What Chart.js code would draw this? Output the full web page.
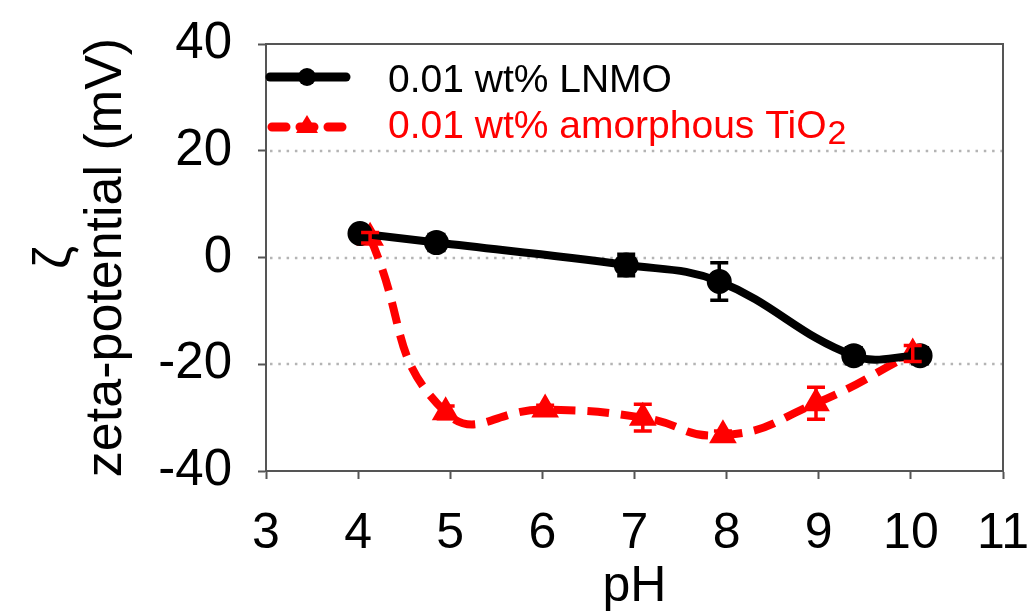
<!DOCTYPE html>
<html>
<head>
<meta charset="utf-8">
<script src="https://cdn.jsdelivr.net/npm/chart.js@4/dist/chart.umd.min.js"></script>
<style>
  html, body { margin: 0; padding: 0; background: #fff; }
  #wrap { width: 1032px; height: 615px; position: relative; }
</style>
</head>
<body>
<div id="wrap"><canvas id="zeta"></canvas></div>
<script>
// zeta potential vs pH
const lnmoPH = [4.02, 4.85, 6.91, 7.92, 9.38, 10.1];
const lnmoZeta = [4.5, 2.8, -1.4, -4.5, -18.4, -18.4];
const lnmoErr = [0, 1.5, 2, 3.5, 1.5, 1.5];

const tioPH = [4.13, 4.95, 6.03, 7.09, 7.96, 8.97, 10.02];
const tioZeta = [3.7, -29, -28.5, -30, -33.3, -27.3, -18];
const tioErr = [1, 1.2, 0.8, 2.5, 0.8, 3, 1.5];

const xTicks = [3, 4, 5, 6, 7, 8, 9, 10, 11];
const yTicks = [-40, -20, 0, 20, 40];
const gridAt = [-20, 0, 20];
const seriesNames = ['0.01 wt% LNMO', '0.01 wt% amorphous TiO'];

const FONT = '"Liberation Sans", Arial, sans-serif';
const RED = '#ff0000';

// dotted horizontal grid lines
const dottedGrid = {
  id: 'dottedGrid',
  beforeDatasetsDraw(chart) {
    const ctx = chart.ctx;
    const a = chart.chartArea;
    const ys = chart.scales.y;
    ctx.save();
    ctx.strokeStyle = '#b4b4b4';
    ctx.lineWidth = 2.5;
    ctx.setLineDash([2.5, 5.8]);
    gridAt.forEach(v => {
      const y = Math.round(ys.getPixelForValue(v));
      ctx.beginPath();
      ctx.moveTo(a.left + 4, y);
      ctx.lineTo(a.right, y);
      ctx.stroke();
    });
    ctx.restore();
  }
};

const errorBars = {
  id: 'errorBars',
  afterDatasetsDraw(chart) {
    const ctx = chart.ctx;
    const ys = chart.scales.y;
    chart.data.datasets.forEach((ds, i) => {
      const meta = chart.getDatasetMeta(i);
      ctx.save();
      ctx.strokeStyle = ds.borderColor;
      ctx.lineWidth = 3.5;
      meta.data.forEach((pt, j) => {
        const e = ds.errors[j];
        if (!e) return;
        const v = ds.data[j].y;
        const top = ys.getPixelForValue(v + e);
        const bot = ys.getPixelForValue(v - e);
        ctx.beginPath();
        ctx.moveTo(pt.x, top); ctx.lineTo(pt.x, bot);
        ctx.moveTo(pt.x - 9, top); ctx.lineTo(pt.x + 9, top);
        ctx.moveTo(pt.x - 9, bot); ctx.lineTo(pt.x + 9, bot);
        ctx.stroke();
      });
      ctx.restore();
    });
  }
};

const frameAndLegend = {
  id: 'frameAndLegend',
  afterDraw(chart) {
    const ctx = chart.ctx;
    const a = chart.chartArea;
    ctx.save();
    ctx.strokeStyle = '#555';
    ctx.lineWidth = 2;
    ctx.beginPath();
    ctx.moveTo(a.left, a.top); ctx.lineTo(a.right, a.top); ctx.lineTo(a.right, a.bottom);
    ctx.stroke();

    // legend
    ctx.lineCap = 'round';
    ctx.lineWidth = 9;
    ctx.strokeStyle = '#000';
    ctx.beginPath(); ctx.moveTo(270, 77); ctx.lineTo(346, 77); ctx.stroke();
    ctx.fillStyle = '#000';
    ctx.beginPath(); ctx.arc(307, 77, 9, 0, Math.PI * 2); ctx.fill();

    ctx.strokeStyle = RED;
    ctx.setLineDash([14, 14]);
    ctx.beginPath(); ctx.moveTo(272, 127); ctx.lineTo(345, 127); ctx.stroke();
    ctx.setLineDash([]);
    ctx.fillStyle = RED;
    ctx.beginPath(); ctx.moveTo(307, 115); ctx.lineTo(318, 133); ctx.lineTo(296, 133); ctx.closePath(); ctx.fill();

    ctx.font = '39px ' + FONT;
    ctx.textBaseline = 'alphabetic';
    ctx.fillStyle = '#000';
    ctx.fillText(seriesNames[0], 388, 92);
    ctx.fillStyle = RED;
    ctx.fillText(seriesNames[1], 388, 138);
    const w = ctx.measureText(seriesNames[1]).width;
    ctx.font = '34px ' + FONT;
    ctx.fillText('2', 389 + w, 144);
    ctx.restore();
  }
};

new Chart(document.getElementById('zeta'), {
  type: 'line',
  data: {
    datasets: [
      {
        label: seriesNames[0],
        data: lnmoPH.map((x, i) => ({ x, y: lnmoZeta[i] })),
        errors: lnmoErr,
        borderColor: '#000',
        backgroundColor: '#000',
        borderWidth: 8,
        tension: 0.4,
        pointStyle: 'circle',
        pointRadius: 8.5,
        pointHoverRadius: 8.5
      },
      {
        label: seriesNames[1],
        data: tioPH.map((x, i) => ({ x, y: tioZeta[i] })),
        errors: tioErr,
        borderColor: RED,
        backgroundColor: RED,
        borderWidth: 8,
        borderDash: [22, 12],
        tension: 0.5,
        pointStyle: 'triangle',
        pointRadius: 8,
        pointHoverRadius: 8
      }
    ]
  },
  options: {
    responsive: true,
    maintainAspectRatio: false,
    animation: false,
    layout: { padding: { top: 44, right: 29, left: 0, bottom: 0 } },
    plugins: {
      legend: { display: false },
      tooltip: { enabled: false }
    },
    scales: {
      x: {
        type: 'linear',
        min: 3,
        max: 11,
        afterBuildTicks: s => { s.ticks = xTicks.map(v => ({ value: v })); },
        afterFit: s => { s.height = 144; s.paddingLeft = 0; s.paddingRight = 0; },
        border: { display: true, color: '#555', width: 2 },
        grid: { drawOnChartArea: false, drawTicks: true, tickLength: 8, tickColor: '#555', tickWidth: 2 },
        ticks: { color: '#000', font: { family: FONT, size: 50 }, padding: 25, maxRotation: 0 },
        title: { display: true, text: 'pH', color: '#000', font: { family: FONT, size: 50, lineHeight: 1.1 }, padding: { top: 0, bottom: 0 } }
      },
      y: {
        min: -40,
        max: 40,
        afterBuildTicks: s => { s.ticks = yTicks.map(v => ({ value: v })); },
        afterFit: s => { s.width = 266; s.paddingTop = 0; s.paddingBottom = 0; },
        border: { display: true, color: '#555', width: 2 },
        grid: { drawOnChartArea: false, drawTicks: true, tickLength: 8, tickColor: '#555', tickWidth: 2 },
        ticks: { color: '#000', font: { family: FONT, size: 51 }, padding: 26 },
        title: {
          display: true,
          text: ['ζ', 'zeta-potential (mV)'],
          color: '#000',
          font: { family: FONT, size: 52, lineHeight: 0.98 },
          padding: { top: 30, bottom: 0 }
        }
      }
    }
  },
  plugins: [dottedGrid, errorBars, frameAndLegend]
});
</script>
</body>
</html>
